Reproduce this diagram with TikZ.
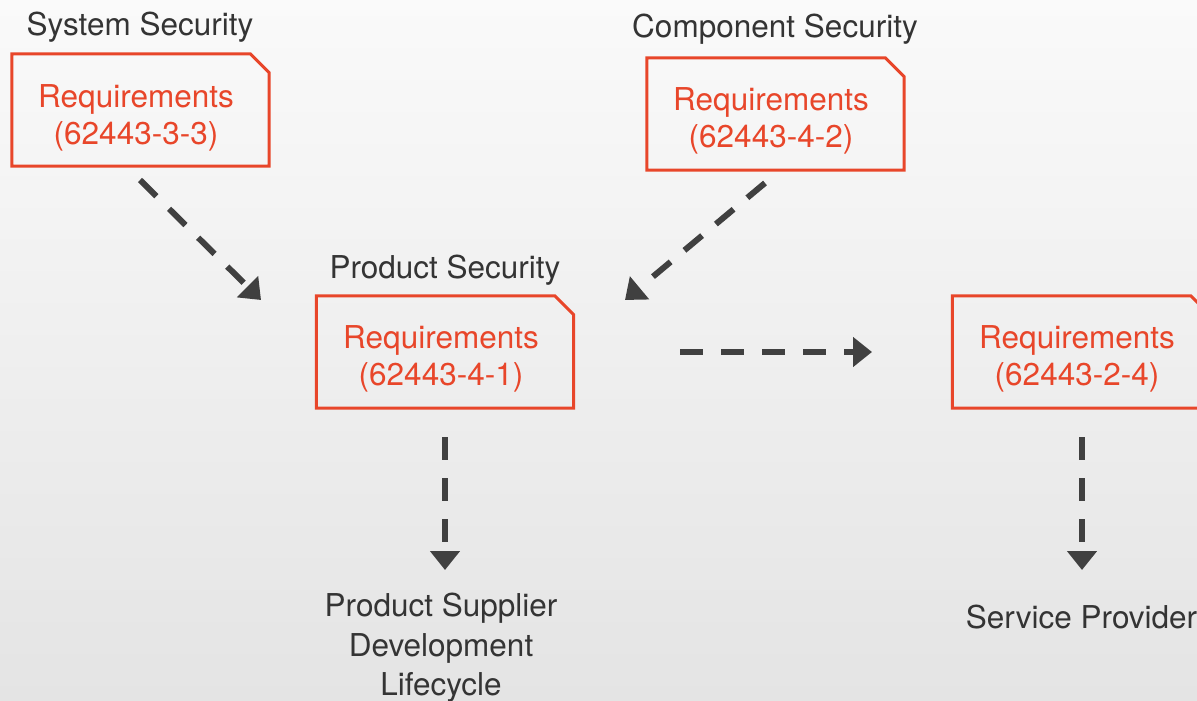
\documentclass[tikz,border=0pt]{standalone}
\usepackage{fontspec}
\setmainfont{TeX Gyre Heros}
\usetikzlibrary{arrows.meta}
\definecolor{reqred}{RGB}{232,70,42}
\definecolor{labgray}{RGB}{52,52,52}
\definecolor{arrgray}{RGB}{64,64,64}
\definecolor{bgtop}{RGB}{250,250,250}
\definecolor{bgbot}{RGB}{228,228,228}
\tikzset{
  reqbox/.style={draw=none, minimum width=257pt, minimum height=112pt, inner sep=0pt},
  boxline/.style={draw=reqred, line width=3pt, line join=miter},
  reqtext/.style={text=reqred, align=center, inner sep=0pt, font=\fontsize{31.5}{37}\selectfont},
  lab/.style={text=labgray, inner sep=0pt, font=\fontsize{31.5}{39.5}\selectfont},
  flow/.style={draw=arrgray, line width=6pt, dash pattern=on 23pt off 18pt,
    -{Triangle[length=19pt,width=29pt]}, arrgray}
}
\begin{document}
\begin{tikzpicture}[x=1pt,y=-1pt]
\useasboundingbox (0,0) rectangle (1197,701);
\shade[top color=bgtop, bottom color=bgbot] (0,0) rectangle (1197,701);

% boxes
\node[reqbox] (b1) at (140.5,110) {};
\node[reqbox] (b2) at (775.5,114) {};
\node[reqbox] (b3) at (445,352) {};
\node[reqbox] (b4) at (1081,352) {};
\foreach \n in {b1,b2,b3,b4}
  \draw[boxline] (\n.north west) -- ([xshift=-19pt]\n.north east) -- ([yshift=-19pt]\n.north east) -- (\n.south east) -- (\n.south west) -- cycle;

% box texts
\node[reqtext] (t1) at (136,117.5) {Requirements\\(62443-3-3)};
\node[reqtext] (t2) at (771,120.5) {Requirements\\(62443-4-2)};
\node[reqtext] (t3) at (441,358.5) {Requirements\\(62443-4-1)};
\node[reqtext] (t4) at (1077,358.5) {Requirements\\(62443-2-4)};

% labels
\node[lab, anchor=base] (l1) at (140,36) {System Security};
\node[lab, anchor=base] (l2) at (775,38) {Component Security};
\node[lab, anchor=base] (l3) at (445,278) {Product Security};
\node[lab, anchor=base] (l4) at (1081.5,628) {Service Provider};
\node[lab, align=center] (l5) at (441,648) {Product Supplier\\Development\\Lifecycle};

% arrow end points
\coordinate (a1s) at (140,180);
\coordinate (a1e) at (261,300);
\coordinate (a2s) at (765,183);
\coordinate (a2e) at (625,300);
\coordinate (a3s) at (680,352);
\coordinate (a3e) at (872,352);
\coordinate (a4s) at (445,437);
\coordinate (a4e) at (445,570);
\coordinate (a5s) at (1082,437);
\coordinate (a5e) at (1082,570);

\draw[flow] (a1s) -- (a1e);
\draw[flow] (a2s) -- (a2e);
\draw[flow] (a3s) -- (a3e);
\draw[flow] (a4s) -- (a4e);
\draw[flow] (a5s) -- (a5e);
\end{tikzpicture}
\end{document}
